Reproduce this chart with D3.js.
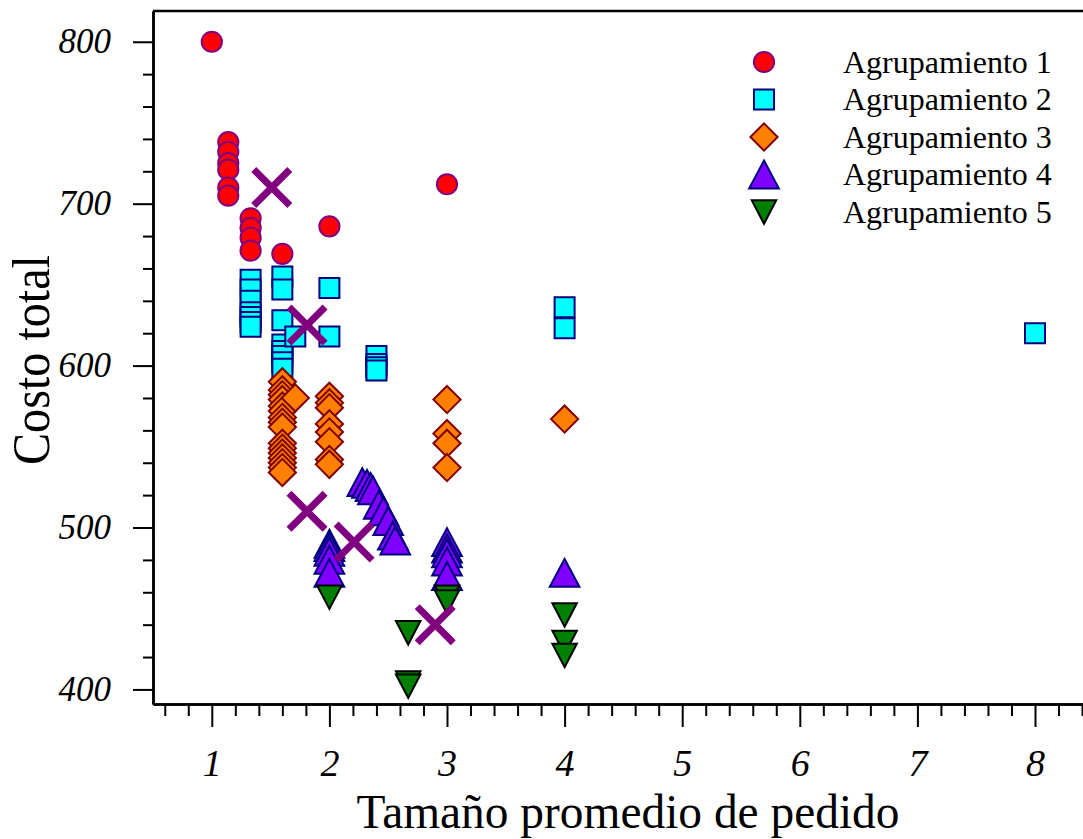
<!DOCTYPE html>
<html>
<head>
<meta charset="utf-8">
<script src="https://cdn.jsdelivr.net/npm/d3@7"></script>
<style>
    body { margin: 0; background: #fff; }
    svg { display: block; }
    .tick text { font-family: 'Liberation Serif', 'Times New Roman', serif; font-style: italic; }
    .title { font-family: 'Liberation Serif', 'Times New Roman', serif; }
</style>
</head>
<body>
<svg id="viz"></svg>
<script>
// datos: [tamaño promedio de pedido, costo total]
const grupo1 = [[1.00, 800], [1.14, 738], [1.14, 732], [1.14, 725], [1.14, 721], [1.14, 710], [1.14, 705],
    [1.33, 691], [1.33, 685], [1.33, 679], [1.33, 671], [1.60, 669], [2.00, 686], [3.00, 712]]
const grupo2 = [[1.33, 653], [1.33, 647], [1.33, 640], [1.33, 633], [1.33, 630], [1.33, 627], [1.33, 624],
    [1.60, 655], [1.60, 647], [1.60, 628], [1.60, 613], [1.60, 609], [1.60, 606], [1.60, 602], [1.60, 598],
    [1.71, 618], [2.00, 648], [2.00, 618], [2.40, 606], [2.40, 601], [2.40, 599], [2.40, 597],
    [4.00, 636], [4.00, 623], [8.00, 620]]
const grupo3 = [[1.60, 590], [1.60, 585], [1.60, 582], [1.60, 579], [1.60, 575], [1.60, 572], [1.60, 568], [1.60, 565],
    [1.60, 562], [1.60, 552], [1.60, 549], [1.60, 546], [1.60, 543], [1.60, 540], [1.60, 537], [1.60, 534],
    [1.71, 580], [2.00, 581], [2.00, 577], [2.00, 574], [2.00, 564], [2.00, 559], [2.00, 553], [2.00, 542], [2.00, 539],
    [3.00, 579], [3.00, 558], [3.00, 552], [3.00, 537], [4.00, 567]]
const grupo4 = [[2.00, 490], [2.00, 488], [2.00, 485], [2.00, 480], [2.00, 472],
    [2.28, 528], [2.32, 527], [2.35, 525], [2.37, 523], [2.42, 514], [2.46, 510], [2.50, 504], [2.54, 495], [2.56, 492],
    [3.00, 491], [3.00, 487], [3.00, 484], [3.00, 479], [3.00, 470], [4.00, 472]]
const grupo5 = [[2.00, 457], [2.67, 435], [2.67, 404], [2.67, 402], [3.00, 457], [3.00, 454],
    [4.00, 446], [4.00, 429], [4.00, 421]]
const centroides = [[1.51, 710], [1.81, 625], [1.81, 510], [2.21, 491], [2.90, 440]]

const nombres = ['Agrupamiento 1', 'Agrupamiento 2', 'Agrupamiento 3', 'Agrupamiento 4', 'Agrupamiento 5']
const xTicks = [1, 2, 3, 4, 5, 6, 7, 8]
const yTicks = [400, 500, 600, 700, 800]

;(function () {
    let config = {
        w: 1083,
        h: 839,
        left: 153,
        top: 11,
        bottom: 704,
        unit: 117.6
    }

    // simbolos propios
    let triUp = { draw(ctx, size) { let w = Math.sqrt(size); ctx.moveTo(0, -w * 0.47); ctx.lineTo(w / 2, w * 0.47); ctx.lineTo(-w / 2, w * 0.47); ctx.closePath() } }
    let triDown = { draw(ctx, size) { let w = Math.sqrt(size); ctx.moveTo(0, w * 0.48); ctx.lineTo(w / 2, -w * 0.48); ctx.lineTo(-w / 2, -w * 0.48); ctx.closePath() } }
    let diamond = { draw(ctx, size) { let r = Math.sqrt(size) / 2; ctx.moveTo(0, -r); ctx.lineTo(r, 0); ctx.lineTo(0, r); ctx.lineTo(-r, 0); ctx.closePath() } }
    let cross = { draw(ctx, size) { let r = Math.sqrt(size) / 2; ctx.moveTo(-r, -r); ctx.lineTo(r, r); ctx.moveTo(r, -r); ctx.lineTo(-r, r) } }

    let styles = [
        { type: d3.symbolCircle, size: 320, fill: '#ff0000', stroke: '#800080' },
        { type: d3.symbolSquare, size: 400, fill: '#00ffff', stroke: '#000080' },
        { type: diamond, size: 740, fill: '#ff8000', stroke: '#800000' },
        { type: triUp, size: 880, fill: '#8000ff', stroke: '#000080' },
        { type: triDown, size: 600, fill: '#008000', stroke: '#000000' }
    ]
    let groups = [grupo1, grupo2, grupo3, grupo4, grupo5]

    let svg = d3.select('#viz').attr('width', config.w).attr('height', config.h)
    svg.append('rect').attr('width', config.w).attr('height', config.h).attr('fill', '#fff')

    let x = d3.scaleLinear().domain([0.5, 8.5]).range([config.left, config.left + 8 * config.unit])
    let y = d3.scaleLinear().domain([391, 819]).range([config.bottom, config.top])

    // marco superior
    svg.append('line')
        .attr('x1', config.left).attr('x2', config.w)
        .attr('y1', config.top).attr('y2', config.top)
        .attr('stroke', '#000').attr('stroke-width', 2.5)

    // ejes: menores y mayores
    let xMinor = d3.range(0.6, 8.5, 0.2).filter(v => Math.abs(v - Math.round(v)) > 0.01)
    svg.append('g').attr('transform', `translate(0,${config.bottom})`)
        .call(d3.axisBottom(x).tickValues(xMinor).tickSize(12).tickSizeOuter(0).tickFormat(''))
    let gx = svg.append('g').attr('transform', `translate(0,${config.bottom})`)
        .call(d3.axisBottom(x).tickValues(xTicks).tickSize(23).tickSizeOuter(0).tickPadding(22).tickFormat(d3.format('d')))
    gx.selectAll('.tick text').attr('font-size', 38).attr('fill', '#000')

    let yMinor = d3.range(400, 820, 20).filter(v => v % 100 !== 0)
    svg.append('g').attr('transform', `translate(${config.left},0)`)
        .call(d3.axisLeft(y).tickValues(yMinor).tickSize(10).tickSizeOuter(0).tickFormat(''))
    let gy = svg.append('g').attr('transform', `translate(${config.left},0)`)
        .call(d3.axisLeft(y).tickValues(yTicks).tickSize(20).tickSizeOuter(0).tickPadding(22))
    gy.selectAll('.tick text').attr('font-size', 35).attr('fill', '#000')

    svg.selectAll('.domain').attr('stroke-width', 2.5)
    svg.selectAll('.tick line').attr('stroke-width', 2)

    // puntos
    groups.forEach((data, i) => {
        let s = styles[i]
        svg.append('g').selectAll('path').data(data).join('path')
            .attr('transform', d => `translate(${x(d[0])},${y(d[1])})`)
            .attr('d', d3.symbol().type(s.type).size(s.size))
            .attr('fill', s.fill)
            .attr('stroke', s.stroke)
            .attr('stroke-width', 2)
    })

    svg.append('g').selectAll('path').data(centroides).join('path')
        .attr('transform', d => `translate(${x(d[0])},${y(d[1])})`)
        .attr('d', d3.symbol().type(cross).size(1300))
        .attr('fill', 'none')
        .attr('stroke', '#800080')
        .attr('stroke-width', 7)

    // leyenda
    let legend = svg.append('g')
    nombres.forEach((name, i) => {
        let s = styles[i]
        let ly = 62 + i * 37.5
        legend.append('path')
            .attr('transform', `translate(764,${ly})`)
            .attr('d', d3.symbol().type(s.type).size(s.size))
            .attr('fill', s.fill)
            .attr('stroke', s.stroke)
            .attr('stroke-width', 2)
        legend.append('text')
            .attr('class', 'title')
            .attr('x', 843)
            .attr('y', ly)
            .attr('dy', '0.33em')
            .attr('font-size', 32)
            .text(name)
    })

    // titulos
    svg.append('text')
        .attr('class', 'title')
        .attr('x', 628).attr('y', 828)
        .attr('text-anchor', 'middle')
        .attr('font-size', 48)
        .attr('textLength', 543)
        .attr('lengthAdjust', 'spacingAndGlyphs')
        .text('Tamaño promedio de pedido')
    svg.append('text')
        .attr('class', 'title')
        .attr('transform', 'translate(49,360) rotate(-90)')
        .attr('text-anchor', 'middle')
        .attr('font-size', 52)
        .attr('textLength', 210)
        .attr('lengthAdjust', 'spacingAndGlyphs')
        .text('Costo total')
})()
</script>
</body>
</html>
